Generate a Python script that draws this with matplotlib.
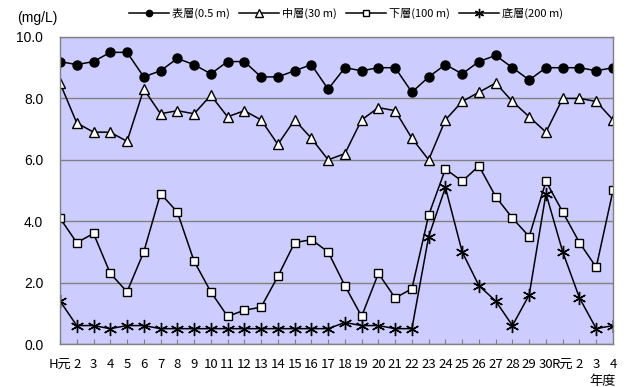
import numpy as np
import matplotlib
matplotlib.use('Agg')
import matplotlib.pyplot as plt

plt.rcParams['font.family'] = ['Noto Sans CJK JP', 'DejaVu Sans']

# 年度ラベル
years = ['H元'] + [str(i) for i in range(2, 31)] + ['R元', '2', '3', '4']

# 溶存酸素 (mg/L)
surface = [9.2, 9.1, 9.2, 9.5, 9.5, 8.7, 8.9, 9.3, 9.1, 8.8, 9.2, 9.2, 8.7, 8.7, 8.9, 9.1, 8.3,
           9.0, 8.9, 9.0, 9.0, 8.2, 8.7, 9.1, 8.8, 9.2, 9.4, 9.0, 8.6, 9.0, 9.0, 9.0, 8.9, 9.0]
middle = [8.5, 7.2, 6.9, 6.9, 6.6, 8.3, 7.5, 7.6, 7.5, 8.1, 7.4, 7.6, 7.3, 6.5, 7.3, 6.7, 6.0,
          6.2, 7.3, 7.7, 7.6, 6.7, 6.0, 7.3, 7.9, 8.2, 8.5, 7.9, 7.4, 6.9, 8.0, 8.0, 7.9, 7.3]
lower = [4.1, 3.3, 3.6, 2.3, 1.7, 3.0, 4.9, 4.3, 2.7, 1.7, 0.9, 1.1, 1.2, 2.2, 3.3, 3.4, 3.0,
         1.9, 0.9, 2.3, 1.5, 1.8, 4.2, 5.7, 5.3, 5.8, 4.8, 4.1, 3.5, 5.3, 4.3, 3.3, 2.5, 5.0]
bottom = [1.4, 0.6, 0.6, 0.5, 0.6, 0.6, 0.5, 0.5, 0.5, 0.5, 0.5, 0.5, 0.5, 0.5, 0.5, 0.5, 0.5,
          0.7, 0.6, 0.6, 0.5, 0.5, 3.5, 5.1, 3.0, 1.9, 1.4, 0.6, 1.6, 4.9, 3.0, 1.5, 0.5, 0.6]

labels = ['表層(0.5 m)', '中層(30 m)', '下層(100 m)', '底層(200 m)']

x = np.arange(len(years))

num_font = ['Liberation Sans', 'DejaVu Sans']
narrow_font = ['Liberation Sans Narrow', 'Noto Sans CJK JP', 'DejaVu Sans']

fig = plt.figure(figsize=(6.26, 3.87), dpi=100)
ax = fig.add_axes([60 / 626, 1 - 344 / 387, 553 / 626, 307 / 387])
ax.set_facecolor('#ccccff')

lw = 1.1
ax.plot(x, surface, '-', color='black', lw=lw, marker='o', ms=6.5, label=labels[0])
ax.plot(x, middle, '-', color='black', lw=lw, marker='^', ms=7.5, mfc='white', mec='black',
        mew=1.0, label=labels[1])
ax.plot(x, lower, '-', color='black', lw=lw, marker='s', ms=6.2, mfc='white', mec='black',
        mew=1.0, label=labels[2])
ax.plot(x, bottom, '-', color='black', lw=lw, marker=(6, 2, 0), ms=9.5, mec='black',
        mew=1.0, label=labels[3])

ax.set_xlim(0, len(years) - 1)
ax.set_ylim(0, 10)
yt = np.arange(0, 10.1, 2)
ax.set_yticks(yt)
ax.set_yticklabels(['%.1f' % v for v in yt], fontsize=10, family=num_font)
ax.tick_params(axis='y', length=0, pad=12)
ax.set_xticks(x)
ax.set_xticklabels(years, fontsize=9.5, family=narrow_font)
ax.tick_params(axis='x', length=3.5, color='#808080', pad=10, direction='in')
ax.yaxis.grid(True, color='#808080', lw=1)
ax.set_axisbelow(True)
for s in ax.spines.values():
    s.set_color('#808080')
    s.set_linewidth(1)

fig.text(17 / 626, 1 - 18 / 387, '(mg/L)', fontsize=10, va='center', ha='left', family=num_font)
fig.text(603 / 626, 1 - 381 / 387, '年度', fontsize=9.5, va='center', ha='center')

fig.legend(loc='center', bbox_to_anchor=(346 / 626, 1 - 13 / 387), ncol=4, frameon=False,
           fontsize=8, handlelength=3.6, columnspacing=0.8, handletextpad=0.3,
           borderpad=0, markerscale=0.7)

fig.savefig('out.png', dpi=100)
